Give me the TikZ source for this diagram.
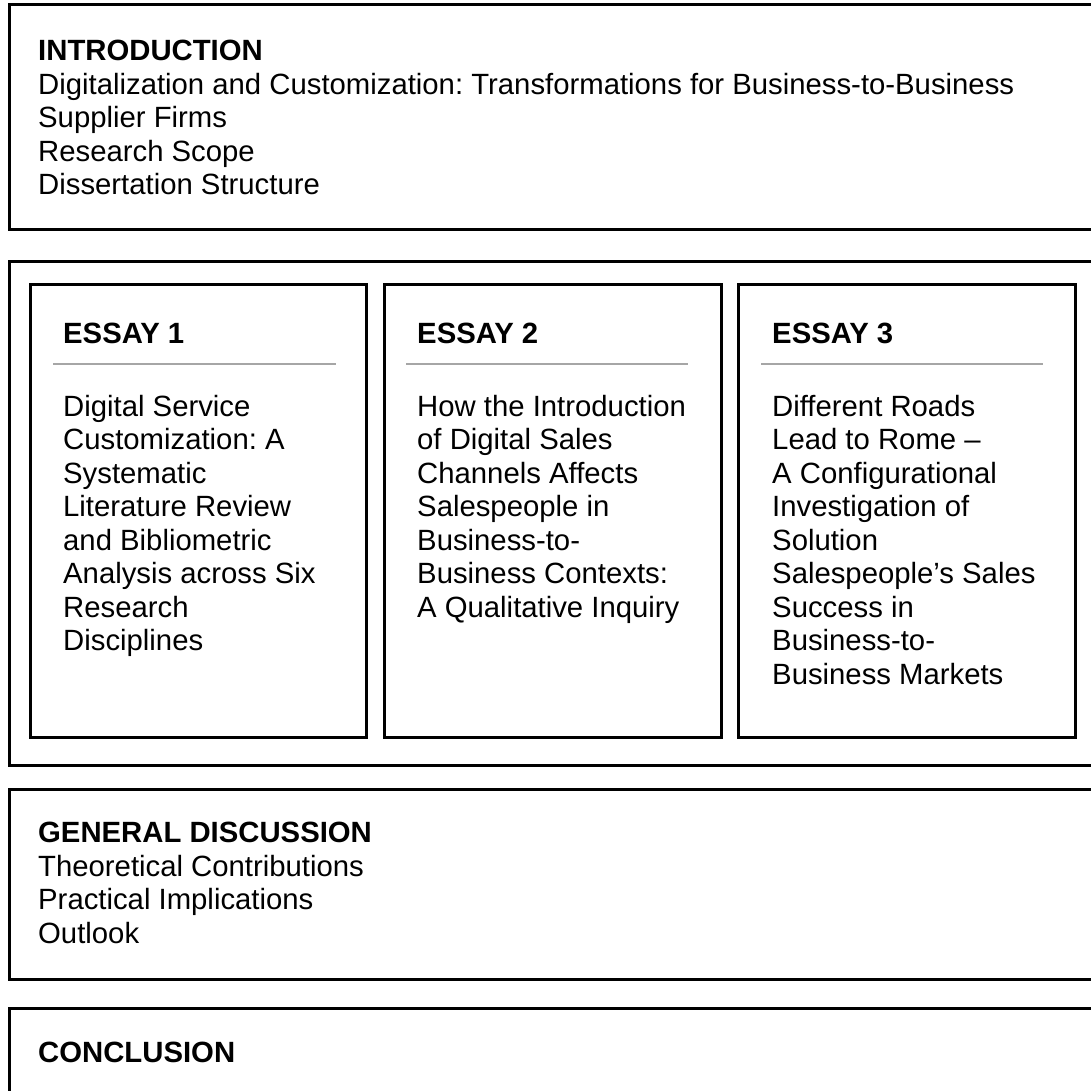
\documentclass[tikz,border=0pt]{standalone}
\usepackage{fontspec}
\setmainfont{Liberation Sans}
\frenchspacing
\definecolor{rulegray}{HTML}{A6A6A6}

\begin{document}
\begin{tikzpicture}[x=1pt,y=1pt,box/.style={draw=black, line width=3pt},txt/.style={anchor=north west, inner sep=0pt, align=left, font=\fontsize{29.3}{33.5}\selectfont},rule/.style={draw=rulegray, line width=2.5pt}]
  \useasboundingbox (0,0) rectangle (1091,1090);
  \clip (0,0) rectangle (1091,1090);

  \draw[box] (9,1085) rectangle (1120,860);
  \node[txt] (intro) at (38,1050) {\textbf{INTRODUCTION}\\Digitalization and Customization: Transformations for Business-to-Business\\Supplier Firms\\Research Scope\\Dissertation Structure};

  \draw[box] (9,828) rectangle (1120,325);
  \draw[box] (30,805) rectangle (366,353);
  \draw[box] (384,805) rectangle (721,353);
  \draw[box] (738,805) rectangle (1075,353);

  \node[txt] (t1) at (63,767) {\textbf{ESSAY 1}};
  \node[txt] (t2) at (417,767) {\textbf{ESSAY 2}};
  \node[txt] (t3) at (772,767) {\textbf{ESSAY 3}};

  \draw[rule] (53,726) -- (336,726);
  \draw[rule] (406,726) -- (688,726);
  \draw[rule] (761,726) -- (1043,726);

  \node[txt] (e1) at (63,695) {Digital Service\\Customization: A\\Systematic\\Literature Review\\and Bibliometric\\Analysis across Six\\Research\\Disciplines};
  \node[txt] (e2) at (417,695) {How the Introduction\\of Digital Sales\\Channels Affects\\Salespeople in\\Business-to-\\Business Contexts:\\A Qualitative Inquiry};
  \node[txt] (e3) at (772,695) {Different Roads\\Lead to Rome –\\A Configurational\\Investigation of\\Solution\\Salespeople’s Sales\\Success in\\Business-to-\\Business Markets};

  \draw[box] (9,301) rectangle (1120,111);
  \node[txt] (disc) at (38,268) {\textbf{GENERAL DISCUSSION}\\Theoretical Contributions\\Practical Implications\\Outlook};

  \draw[box] (9,82) rectangle (1120,-20);
  \node[txt] (concl) at (38,48) {\textbf{CONCLUSION}};
\end{tikzpicture}
\end{document}
